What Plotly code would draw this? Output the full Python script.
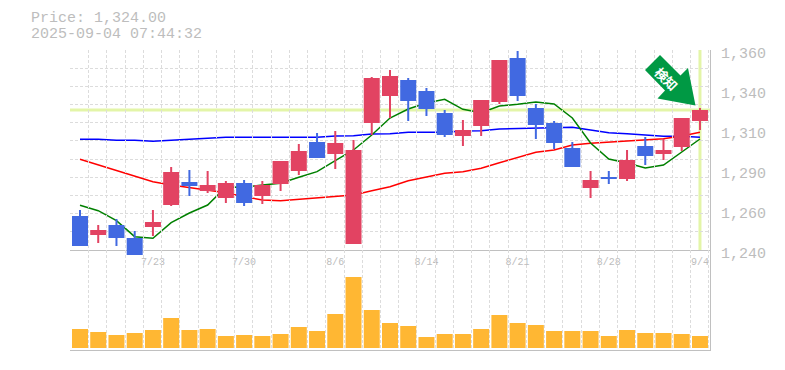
import plotly.graph_objects as go

positions = list(range(35))
tick_positions = [4, 9, 14, 19, 24, 29, 34]
tick_dates = ["7/23", "7/30", "8/6", "8/14", "8/21", "8/28", "9/4"]

opens = [1260.4, 1249, 1255, 1247.2, 1253.8, 1267, 1280.8, 1275.4, 1271.2, 1280.2, 1272.4, 1279.6,
         1287.4, 1304.8, 1297.6, 1243.6, 1316.2, 1332.4, 1342, 1335.4, 1322.2, 1308.4, 1314.4,
         1328.8, 1355.2, 1325.2, 1316.2, 1301.2, 1277.2, 1283.8, 1282.6, 1302.4, 1297.6, 1301.8, 1317.4]
closes = [1242.4, 1252, 1247.2, 1237, 1256.8, 1286.8, 1278.4, 1279, 1280.2, 1268.2, 1279, 1293.4,
          1299.4, 1295.2, 1304.2, 1300, 1343.2, 1344.4, 1329.4, 1324.6, 1309, 1312, 1330,
          1354, 1332.4, 1315, 1304.2, 1289.8, 1282, 1282.6, 1294, 1296.4, 1300, 1319.2, 1324]
highs = [1264, 1255, 1258.6, 1251.4, 1264, 1289.8, 1288, 1287.4, 1281.4, 1282, 1281.4, 1293.4,
         1303.6, 1310.2, 1311.4, 1306, 1343.8, 1348, 1343.2, 1337.2, 1324, 1318, 1330,
         1354, 1359.4, 1327.6, 1317.4, 1304.8, 1287.4, 1287.4, 1300, 1307.8, 1306.6, 1319.2, 1325.2]
lows = [1242.4, 1244.2, 1242.4, 1237, 1248.4, 1266.4, 1272.4, 1274.2, 1268.2, 1266.4, 1267.6, 1275.4,
        1285, 1295.2, 1288.6, 1243.6, 1309, 1319.2, 1317.4, 1320.4, 1307.8, 1302.4, 1308.4,
        1327.6, 1329.4, 1306.6, 1300.6, 1289.8, 1271.2, 1279.6, 1281.4, 1291, 1294, 1299.4, 1312]
ma_short = [1266.8, 1263.6, 1257.6, 1248, 1247, 1256.4, 1262.2, 1267, 1277.8, 1277.6, 1279, 1280,
            1283.6, 1287, 1293.6, 1300, 1309, 1319.2, 1324.6, 1328.2, 1330.4, 1324.4, 1322.4,
            1326.4, 1327.4, 1328.8, 1327.6, 1319.2, 1304.2, 1294.6, 1292.2, 1289.2, 1291, 1299, 1306.6]
ma_mid = [1294.4, 1291, 1287.6, 1284, 1281, 1279, 1277.6, 1276, 1274.4, 1272, 1270, 1269.6,
          1270.4, 1271.2, 1272, 1273, 1275.6, 1278, 1281.6, 1284, 1286, 1287, 1289,
          1292.4, 1295.6, 1298.6, 1300, 1303, 1304, 1304.6, 1305.2, 1306, 1306.8, 1308.4, 1310.6]
ma_long = [1306.4, 1306.4, 1305.8, 1305.8, 1305.2, 1305.8, 1306.4, 1307, 1307.6, 1307.6, 1307.6, 1307.6,
           1307.6, 1307.6, 1308.4, 1308.6, 1309.6, 1309.8, 1310.6, 1310.6, 1310.6, 1311.4, 1311.6,
           1312.6, 1312.8, 1313.4, 1313.2, 1313.6, 1312, 1310.4, 1309.8, 1309, 1308.2, 1308.2, 1307.6]
volumes = [19, 16, 13, 15, 18, 30, 18, 19, 12, 13, 12, 14, 21, 17, 34, 71, 38, 25, 22, 11, 14, 14,
           19, 33, 25, 23, 17, 17, 17, 12, 18, 15, 15, 14, 12]
price_ticks = [1360, 1336, 1312, 1288, 1264, 1240]
price_labels = ["1,360", "1,340", "1,310", "1,290", "1,260", "1,240"]
last_price = 1324
title_lines = ["Price: 1,324.00", "2025-09-04 07:44:32"]

UP, DOWN, VOL = "#E24362", "#4169E1", "#FFB733"
TXT, GRID, AXIS, MARK = "#BDBDBD", "#DCDCDC", "#C0C0C0", "#E3F5A8"
MONO = "Liberation Mono, monospace"
colors = [UP if c >= o else DOWN for o, c in zip(opens, closes)]

fig = go.Figure()
for name, vals, col in [("long", ma_long, "#0000FF"), ("mid", ma_mid, "#FF0000"), ("short", ma_short, "#008000")]:
    fig.add_trace(go.Scatter(x=positions, y=vals, mode="lines", name=name,
                             line=dict(color=col, width=1.5), xaxis="x", yaxis="y"))
fig.add_trace(go.Bar(x=positions, y=volumes, width=0.877, marker=dict(color=VOL, line_width=0),
                     xaxis="x2", yaxis="y2"))
fig.add_trace(go.Bar(x=positions, y=[h - l for h, l in zip(highs, lows)], base=lows, width=0.11,
                     marker=dict(color=colors, line_width=0), xaxis="x", yaxis="y3"))
fig.add_trace(go.Bar(x=positions, y=[abs(o - c) for o, c in zip(opens, closes)],
                     base=[min(o, c) for o, c in zip(opens, closes)], width=0.877,
                     marker=dict(color=colors, line_width=0), xaxis="x", yaxis="y3"))

x_range = [-0.548, 34.55]
boundaries = [i - 0.52 for i in range(36)]
grid_prices = [1360 - 120 * k / 11 for k in range(12)]
DASH = "3px,2px"
minor_x = dict(tickvals=boundaries, showgrid=True, gridcolor=GRID, griddash=DASH, gridwidth=1, ticklen=0)


def px(x, y):
    return f"{(x - 70) / 640:.5f} {(350 - y) / 300:.5f}"


arrow = [(660, 55), (645, 70), (665, 90.5), (657.5, 98.5), (695.5, 105.5), (688, 68), (680.5, 75.5)]
arrow_path = "M " + " L ".join(px(*p) for p in arrow) + " Z"

fig.update_layout(
    width=777, height=362, margin=dict(l=62, r=75, t=42, b=20, autoexpand=False),
    paper_bgcolor="white", plot_bgcolor="rgba(0,0,0,0)", showlegend=False, barmode="overlay",
    font=dict(family=MONO, color=TXT),
    xaxis=dict(range=x_range, anchor="y", tickmode="array", tickvals=tick_positions, ticktext=tick_dates,
               showgrid=False, ticks="", ticklen=0, showline=True, linecolor=AXIS, linewidth=1,
               ticklabelstandoff=2,
               tickfont=dict(size=10, color=TXT, family=MONO), minor=minor_x, zeroline=False),
    xaxis2=dict(range=x_range, anchor="y2", showticklabels=False, showgrid=False, tickmode="array", tickvals=[],
                ticks="", showline=True, linecolor=AXIS, linewidth=1, minor=minor_x, zeroline=False),
    yaxis=dict(domain=[1 / 3, 1], range=[1240, 1360], side="right", anchor="x", tickmode="array",
               tickvals=price_ticks, ticktext=price_labels, showgrid=False, ticks="", ticklabelstandoff=7,
               ticklabelshift=3, showline=True, linecolor=AXIS, linewidth=1, zeroline=False,
               tickfont=dict(size=15, color=TXT, family=MONO),
               minor=dict(tickvals=grid_prices, showgrid=True, gridcolor=GRID, griddash=DASH, gridwidth=1, ticklen=0)),
    yaxis2=dict(domain=[0, 1 / 3], range=[-2, 98], side="right", anchor="x2", showticklabels=False, showgrid=False,
                ticks="", showline=True, linecolor=AXIS, linewidth=1, zeroline=False),
    # Same 0.6-per-pixel price scale as yaxis, carried 6px lower so the candle that dips under 1,240 stays whole.
    yaxis3=dict(domain=[94 / 300, 1], range=[1236.4, 1360], side="right", anchor="x", showticklabels=False,
                showgrid=False, ticks="", zeroline=False, showline=False),
    shapes=[
        dict(type="line", xref="paper", x0=0, x1=1, yref="y", y0=last_price, y1=last_price,
             line=dict(color=MARK, width=3), layer="below"),
        dict(type="line", xref="x", x0=positions[-1], x1=positions[-1], yref="y", y0=1240, y1=1360,
             line=dict(color=MARK, width=3), layer="below"),
        dict(type="path", xref="paper", yref="paper", path=arrow_path, fillcolor="#009944",
             line=dict(width=0), layer="above"),
    ],
    annotations=[
        dict(text=title_lines[0], xref="paper", yref="paper", x=(29 - 70) / 640, y=(350 - 18.5) / 300,
             xanchor="left", yanchor="middle", showarrow=False, font=dict(size=15, color=TXT, family=MONO)),
        dict(text=title_lines[1], xref="paper", yref="paper", x=(29 - 70) / 640, y=(350 - 34) / 300,
             xanchor="left", yanchor="middle", showarrow=False, font=dict(size=15, color=TXT, family=MONO)),
        dict(text="<b>検知</b>", xref="paper", yref="paper", x=(666.5 - 70) / 640, y=(350 - 78) / 300,
             xanchor="center", yanchor="middle", showarrow=False, textangle=45,
             font=dict(size=13, color="white", family="Noto Sans CJK JP")),
    ],
)
fig.write_html("out.html")
